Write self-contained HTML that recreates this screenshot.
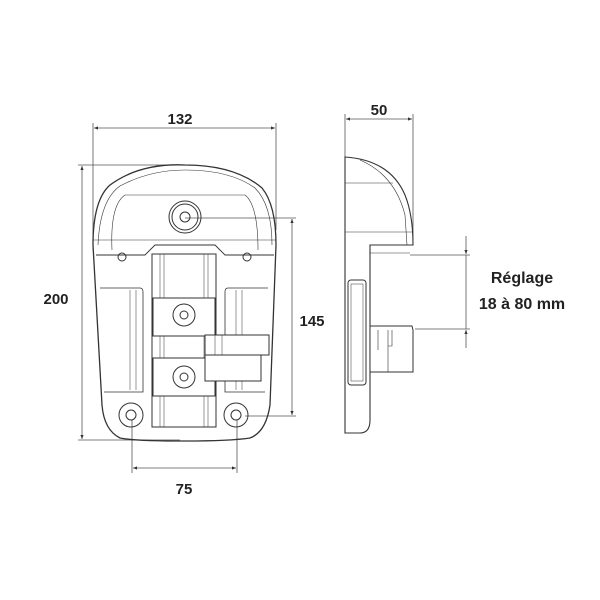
<!DOCTYPE html>
<html><head><style>
html,body{margin:0;padding:0;background:#fff;}
svg{display:block;}
text{font-family:"Liberation Sans",Arial,sans-serif;font-weight:bold;fill:#222;}
</style></head><body>
<svg width="600" height="600" viewBox="0 0 600 600" xmlns="http://www.w3.org/2000/svg">
<defs>
<marker id="a" viewBox="0 0 10 10" refX="10" refY="5" markerWidth="7" markerHeight="5" orient="auto-start-reverse"><path d="M0,1 L10,5 L0,9z" fill="#333"/></marker>
</defs>
<g stroke="#555" stroke-width="0.8" fill="none">
<!-- dimension 132 -->
<line x1="93" y1="123" x2="93" y2="250"/><line x1="276" y1="123" x2="276" y2="230"/>
<line x1="94" y1="128" x2="275" y2="128" marker-start="url(#a)" marker-end="url(#a)"/>
<!-- 200 -->
<line x1="78" y1="165" x2="180" y2="165"/><line x1="78" y1="440" x2="180" y2="440"/>
<line x1="82" y1="166" x2="82" y2="439" marker-start="url(#a)" marker-end="url(#a)"/>
<!-- 145 -->
<line x1="185" y1="218" x2="296" y2="218"/><line x1="245" y1="416" x2="296" y2="416"/>
<line x1="292" y1="219" x2="292" y2="415" marker-start="url(#a)" marker-end="url(#a)"/>
<!-- 75 -->
<line x1="132" y1="420" x2="132" y2="473"/><line x1="237" y1="420" x2="237" y2="473"/>
<line x1="133" y1="468" x2="236" y2="468" marker-start="url(#a)" marker-end="url(#a)"/>
<!-- 50 -->
<line x1="345" y1="114" x2="345" y2="160"/><line x1="413" y1="114" x2="413" y2="240"/>
<line x1="346" y1="119" x2="412" y2="119" marker-start="url(#a)" marker-end="url(#a)"/>
<!-- reglage -->
<line x1="410" y1="255" x2="470" y2="255"/><line x1="415" y1="329" x2="470" y2="329"/>
<line x1="466" y1="236" x2="466" y2="254" marker-end="url(#a)"/>
<line x1="466" y1="255" x2="466" y2="329"/>
<line x1="466" y1="348" x2="466" y2="330" marker-end="url(#a)"/>
</g>
<text x="180" y="124" font-size="15" text-anchor="middle">132</text>
<text x="56" y="304" font-size="15" text-anchor="middle">200</text>
<text x="312" y="326" font-size="15" text-anchor="middle">145</text>
<text x="184" y="494" font-size="15" text-anchor="middle">75</text>
<text x="379" y="115" font-size="15" text-anchor="middle">50</text>
<text x="522" y="283" font-size="16" text-anchor="middle">Réglage</text>
<text x="522" y="309" font-size="16" text-anchor="middle">18 à 80 mm</text>

<!-- main front view -->
<g stroke="#333" stroke-width="1" fill="none">
<path d="M93,245 Q93,200 110,185 Q140,163 185,165 Q235,165 262,188 Q276,205 276,245 L270,405 Q266,432 250,438 Q230,441 185,441 Q135,441 120,438 Q104,430 102,405 Z" stroke-width="1.3"/>
<path d="M98,245 Q100,200 120,186 Q150,170 185,170 Q230,170 255,188 Q272,205 272,245" stroke-width="0.6"/>
<path d="M93,240 L276,240" stroke-width="0.5"/>
<path d="M112,250 Q110,205 125,195 L245,195 Q258,205 258,250" stroke-width="0.6"/>
<path d="M96,255 L145,255 L155,245 L215,245 L225,255 L274,255" stroke-width="0.9"/>
<circle cx="185" cy="217" r="16"/><circle cx="185" cy="217" r="13"/><circle cx="185" cy="217" r="5"/>
<circle cx="122" cy="257" r="4"/><circle cx="247" cy="257" r="4"/>
<rect x="152" y="254" width="64" height="173" stroke-width="1"/>
<line x1="160" y1="254" x2="160" y2="427" stroke-width="0.5"/><line x1="164" y1="254" x2="164" y2="427" stroke-width="0.5"/>
<line x1="204" y1="254" x2="204" y2="427" stroke-width="0.5"/><line x1="208" y1="254" x2="208" y2="427" stroke-width="0.5"/>
<rect x="153" y="298" width="62" height="38" fill="#fff"/>
<rect x="153" y="358" width="62" height="38" fill="#fff"/>
<circle cx="184" cy="315" r="11"/><circle cx="184" cy="315" r="4"/>
<circle cx="184" cy="377" r="11"/><circle cx="184" cy="377" r="4"/>
<path d="M100,288 L140,288 Q143,288 143,292 L143,392 L104,392" stroke-width="0.8"/>
<path d="M130,290 L130,390 M136,290 L136,390" stroke-width="0.5"/>
<path d="M268,288 L228,288 Q225,288 225,292 L225,392 L265,392" stroke-width="0.8"/>
<path d="M236,290 L236,390 M242,290 L242,390" stroke-width="0.5"/>
<rect x="205" y="335" width="64" height="20" fill="#fff"/>
<line x1="215" y1="335" x2="215" y2="355" stroke-width="0.5"/><line x1="222" y1="335" x2="222" y2="355" stroke-width="0.5"/>
<rect x="205" y="355" width="56" height="26" fill="#fff"/>
<circle cx="131" cy="415" r="12"/><circle cx="131" cy="415" r="5"/>
<circle cx="236" cy="415" r="12"/><circle cx="236" cy="415" r="5"/>
</g>

<!-- side view -->
<g stroke="#333" stroke-width="1" fill="none">
<path d="M345,157 Q390,160 405,195 Q413,215 413,245 L370,245 L370,420 Q370,433 360,433 L345,433 Z" stroke-width="1.1"/>
<path d="M360,160 Q395,175 405,215 L407,245" stroke-width="0.6"/>
<line x1="345" y1="183" x2="393" y2="183" stroke-width="0.5"/>
<line x1="345" y1="232" x2="412" y2="232" stroke-width="0.5"/>
<line x1="370" y1="253" x2="410" y2="253" stroke-width="0.6"/>
<line x1="370" y1="245" x2="370" y2="253"/>
<rect x="348" y="280" width="18" height="105" rx="3" fill="#fff"/>
<rect x="351" y="284" width="12" height="97" stroke-width="0.5"/>
<path d="M370,326 L412,326 L413,330 L413,372 L370,372 Z" fill="#fff"/>
<path d="M378,330 L378,350 M388,330 L388,350 M392,330 L392,346 L388,346 L388,372" stroke-width="0.6"/>
</g>
</svg>
</body></html>
